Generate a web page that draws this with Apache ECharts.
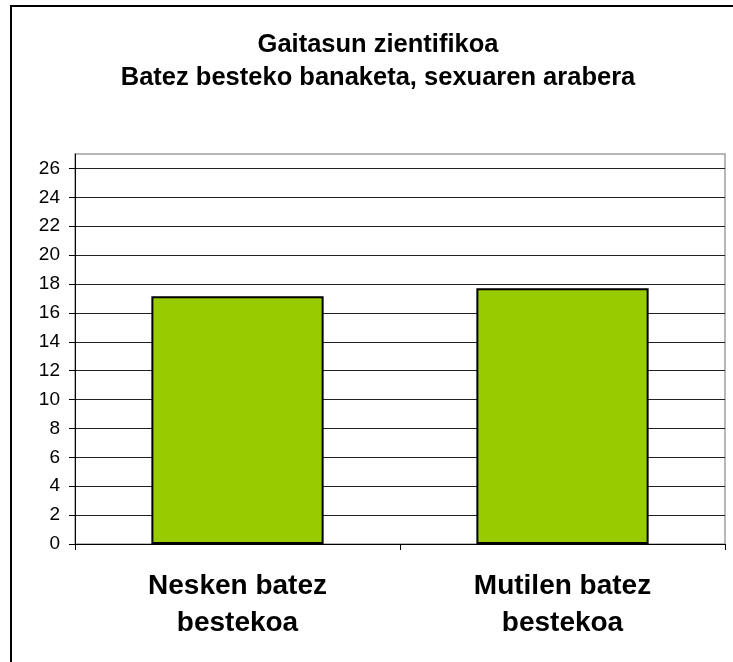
<!DOCTYPE html>
<html>
<head>
<meta charset="utf-8">
<script src="https://cdn.jsdelivr.net/npm/echarts@6/dist/echarts.min.js"></script>
<style>
  html, body { margin: 0; padding: 0; background: #fff; }
  #myChart { width: 733px; height: 662px; }
</style>
</head>
<body>
<div id="myChart"></div>
<script>
// data
const categories = ['Nesken batez\nbestekoa', 'Mutilen batez\nbestekoa']
const values = [17.15, 17.7]
const yTicks = [0, 2, 4, 6, 8, 10, 12, 14, 16, 18, 20, 22, 24, 26]

let myChart = echarts.init(document.getElementById('myChart'))
let option = {
    backgroundColor: '#fff',
    animation: false,
    title: {
        text: 'Gaitasun zientifikoa\nBatez besteko banaketa, sexuaren arabera',
        left: 373,
        textAlign: 'center',
        top: 23,
        textStyle: {
            fontFamily: 'Liberation Sans',
            fontWeight: 'bold',
            fontSize: 25.5,
            lineHeight: 33,
            color: '#000'
        }
    },
    graphic: [
        {
            type: 'rect',
            shape: { x: 11, y: 6, width: 800, height: 800 },
            style: { fill: 'none', stroke: '#000', lineWidth: 2 },
            silent: true
        }
    ],
    grid: {
        left: 75,
        right: 8,
        top: 154,
        bottom: 118,
        show: true,
        borderColor: '#a0a0a0',
        borderWidth: 1.5
    },
    xAxis: {
        type: 'category',
        data: categories,
        boundaryGap: true,
        axisLine: { lineStyle: { color: '#000', width: 1 } },
        axisTick: { show: true, length: 6, lineStyle: { color: '#000' } },
        axisLabel: {
            margin: 24,
            fontFamily: 'Liberation Sans',
            fontWeight: 'bold',
            fontSize: 28,
            lineHeight: 37,
            color: '#000'
        }
    },
    yAxis: {
        type: 'value',
        min: 0,
        max: 27,
        interval: 2,
        axisLine: { show: true, lineStyle: { color: '#000', width: 1 } },
        axisTick: { show: true, length: 6, customValues: yTicks, lineStyle: { color: '#000' } },
        axisLabel: {
            customValues: yTicks,
            margin: 15,
            fontFamily: 'Liberation Sans',
            fontSize: 19,
            color: '#000'
        },
        splitLine: { show: true, lineStyle: { color: '#222', width: 1 } }
    },
    series: [
        {
            type: 'bar',
            data: values,
            barWidth: '53%',
            itemStyle: {
                color: '#99cc00',
                borderColor: '#000',
                borderWidth: 2
            }
        }
    ]
}
myChart.setOption(option)
</script>
</body>
</html>
